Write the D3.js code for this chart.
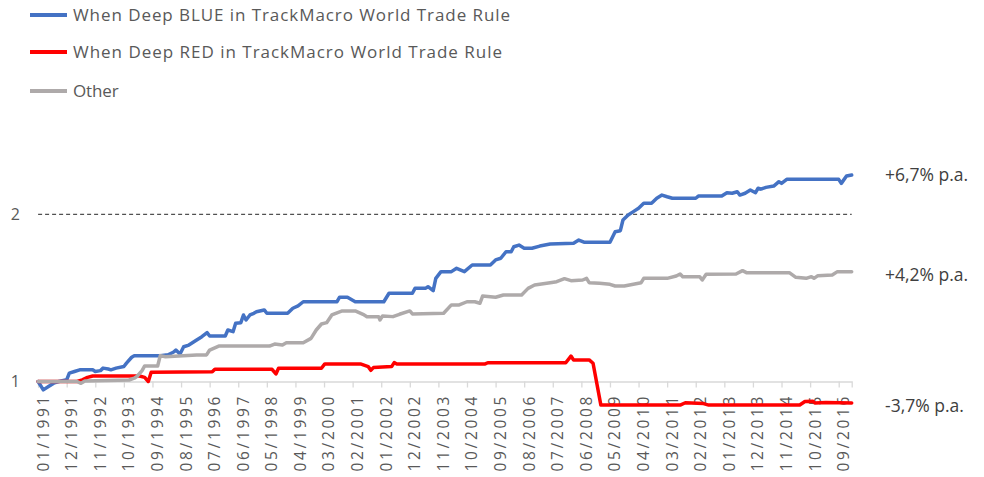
<!DOCTYPE html>
<html><head><meta charset="utf-8">
<script src="https://cdn.jsdelivr.net/npm/d3@7"></script>
<style>
body{margin:0;background:#fff}
svg{display:block}
text{font-family:"Open Sans",sans-serif}
</style>
</head><body>
<svg id="chart" width="984" height="477"></svg>
<script>
// ---- DATA (month index from 01/1991, value) ----
const seriesNames = ["When Deep BLUE in TrackMacro World Trade Rule","When Deep RED in TrackMacro World Trade Rule","Other"];
const blueSeries = [[0,1.00],[2,0.95],[4,0.97],[6,0.99],[8,1.00],[11,1.01],[12,1.05],[14,1.06],[16,1.07],[21,1.07],[22,1.06],[24,1.065],[25,1.08],[27,1.075],[28,1.07],[30,1.08],[33,1.09],[34,1.11],[36,1.145],[37,1.154],[47,1.154],[50,1.16],[52,1.175],[53,1.188],[54.6,1.164],[56,1.208],[58,1.218],[61,1.248],[63,1.268],[65,1.292],[66,1.272],[72,1.272],[73,1.308],[75,1.298],[76,1.348],[78,1.352],[79,1.398],[80,1.368],[81.5,1.398],[83,1.408],[84,1.417],[87,1.428],[88,1.408],[96,1.408],[98,1.438],[100,1.452],[102,1.477],[115,1.477],[116,1.504],[119,1.504],[122,1.477],[133,1.477],[135,1.528],[144,1.528],[145,1.557],[149,1.557],[150,1.567],[152,1.543],[153,1.617],[155,1.657],[159,1.657],[161,1.677],[164,1.657],[167,1.697],[174,1.697],[176,1.727],[178,1.737],[180,1.776],[182,1.776],[183,1.806],[185,1.816],[187,1.797],[190,1.797],[193,1.81],[197,1.822],[206,1.827],[208,1.846],[210,1.833],[220,1.833],[222,1.896],[224,1.902],[225,1.966],[227,1.996],[229,2.016],[231,2.036],[233,2.066],[236,2.066],[238,2.096],[240,2.115],[242,2.105],[244,2.096],[253,2.096],[254,2.109],[263,2.109],[265,2.129],[267,2.126],[269,2.135],[270,2.115],[272,2.126],[274,2.145],[276,2.129],[277,2.156],[278,2.15],[280,2.161],[283,2.169],[285,2.195],[286,2.185],[288,2.209],[308,2.209],[309,2.185],[311,2.229],[313,2.235]];
const redSeries = [[0,1.00],[15,1.00],[17,1.01],[19,1.025],[21,1.033],[39,1.033],[41,1.025],[42.4,1.00],[43.5,1.055],[67,1.058],[68,1.073],[90,1.073],[91.5,1.045],[92.5,1.079],[109,1.079],[110.3,1.105],[124,1.105],[127,1.089],[128,1.067],[129,1.083],[136,1.089],[137,1.113],[138,1.105],[172,1.105],[173,1.112],[203,1.112],[205,1.152],[206,1.129],[212,1.129],[213.5,1.109],[216.5,0.859],[247,0.859],[249,0.873],[256,0.868],[258,0.859],[293,0.859],[295,0.88],[298,0.882],[299,0.871],[303,0.874],[313,0.871]];
const otherSeries = [[0,1.00],[15,1.00],[16.5,0.989],[18,1.003],[35,1.009],[37,1.02],[38,1.03],[40,1.065],[41,1.093],[46,1.093],[47,1.155],[49,1.148],[61,1.159],[64.8,1.159],[66,1.188],[69.5,1.212],[89,1.212],[91,1.224],[94,1.218],[95.5,1.232],[102,1.232],[105,1.258],[107,1.308],[109,1.344],[111,1.352],[113,1.398],[115,1.411],[117,1.422],[122,1.422],[125,1.402],[126.5,1.388],[131,1.388],[131.5,1.368],[132.5,1.392],[136.5,1.388],[139,1.402],[143,1.422],[144,1.404],[156,1.408],[159,1.458],[162,1.458],[165,1.477],[168,1.477],[170,1.468],[171,1.511],[176,1.504],[179,1.517],[186,1.517],[188.5,1.557],[191,1.577],[197,1.591],[199.5,1.597],[202.5,1.615],[205,1.603],[209.5,1.607],[211,1.617],[212,1.591],[216,1.587],[220,1.581],[222,1.571],[225.5,1.571],[229.5,1.583],[232,1.591],[233,1.617],[242,1.617],[245.5,1.631],[247,1.643],[248,1.627],[254.5,1.627],[255.5,1.607],[257,1.641],[268.5,1.643],[271,1.663],[272.5,1.651],[289,1.651],[291.5,1.623],[295.5,1.617],[297.5,1.627],[298.5,1.617],[300,1.633],[305.5,1.637],[307.5,1.657],[313,1.657]];
const tickMonths = [0,11,22,33,44,55,66,77,88,99,110,121,132,143,154,165,176,187,198,209,220,231,242,253,264,275,286,297,308];
const tickLabels = ["01/1991","12/1991","11/1992","10/1993","09/1994","08/1995","07/1996","06/1997","05/1998","04/1999","03/2000","02/2001","01/2002","12/2002","11/2003","10/2004","09/2005","08/2006","07/2007","06/2008","05/2009","04/2010","03/2011","02/2012","01/2013","12/2013","11/2014","10/2015","09/2016"];
const yTicks = [1,2];
const endLabels = ["+6,7% p.a.","+4,2% p.a.","-3,7% p.a."];

// ---- STYLE / LAYOUT ----
const colors = ["#4472C4","#FF0000","#AEAAAA"];
const svg = d3.select("#chart");
const x = d3.scaleLinear().domain([0,313]).range([38.1,851.7]);
const y = d3.scaleLinear().domain([1,2]).range([381.5,214.3]);

// dashed reference line at 2
svg.append("line").attr("x1",x(0)).attr("x2",x(313)).attr("y1",y(2)).attr("y2",y(2))
  .attr("stroke","#262626").attr("stroke-width",1).attr("stroke-dasharray","4,3");

// x axis at value 1
const xAxis = d3.axisBottom(x).tickValues(tickMonths).tickFormat((d,i)=>tickLabels[i]).tickSizeOuter(0).tickSize(6);
const gx = svg.append("g").attr("transform",`translate(0,${y(1)})`).call(xAxis);
gx.select(".domain").attr("stroke","#D9D9D9").attr("stroke-width",1.3);
gx.selectAll(".tick line").attr("stroke","#D9D9D9").attr("stroke-width",1.3);
gx.selectAll(".tick text")
  .attr("transform","rotate(-90)")
  .attr("x",-15).attr("y",4.5).attr("dy","0.35em")
  .attr("text-anchor","end")
  .attr("fill","#595959").attr("font-size",15.5)
  .attr("textLength",75).attr("lengthAdjust","spacing");

// y labels
svg.selectAll(".ylab").data(yTicks).join("text").attr("class","ylab")
  .attr("x",20).attr("y",d=>y(d)).attr("dy","0.36em").attr("text-anchor","end")
  .attr("fill","#595959").attr("font-size",16).text(d=>d);

// series lines
const line = d3.line().x(d=>x(d[0])).y(d=>y(d[1]));
[blueSeries, redSeries, otherSeries].forEach((s,i)=>{
  svg.append("path").datum(s).attr("d",line).attr("fill","none")
    .attr("stroke",colors[i]).attr("stroke-width",3.5)
    .attr("stroke-linejoin","round").attr("stroke-linecap","round");
});

// end labels
const endVals = [blueSeries, otherSeries, redSeries].map(s=>s[s.length-1][1]);
const endOffsets = [0, 3, 3];
svg.selectAll(".endlab").data(endLabels).join("text").attr("class","endlab")
  .attr("x",885).attr("y",(d,i)=>y(endVals[i])+endOffsets[i]).attr("dy","0.36em")
  .attr("fill","#404040").attr("font-size",17.5).text(d=>d);

// legend
const legY = [15,52,91];
const legLen = [437,429,45.6];
const leg = svg.append("g");
seriesNames.forEach((n,i)=>{
  leg.append("line").attr("x1",30).attr("x2",67).attr("y1",legY[i]).attr("y2",legY[i])
    .attr("stroke",colors[i]).attr("stroke-width",4);
  leg.append("text").attr("x",73).attr("y",legY[i]).attr("dy","0.36em")
    .attr("fill","#595959").attr("font-size",17)
    .attr("textLength",legLen[i]).attr("lengthAdjust","spacing").text(n);
});
</script>
</body></html>
